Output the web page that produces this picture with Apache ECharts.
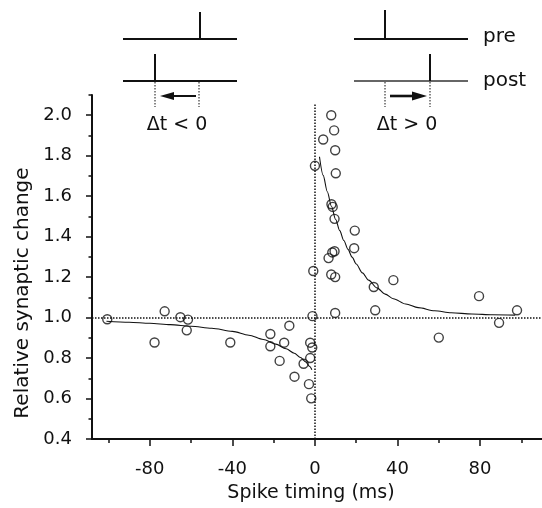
<!DOCTYPE html>
<html>
<head>
<meta charset="utf-8">
<script src="https://cdn.jsdelivr.net/npm/echarts@6/dist/echarts.min.js"></script>
<style>
  html, body { margin: 0; padding: 0; background: #fff; }
  #chart { width: 542px; height: 508px; }
</style>
</head>
<body>
<div id="chart"></div>
<script>
// Spike-timing-dependent plasticity: each circle is one recorded pair
const spikeTiming = [
  -100.6, -72.8, -65.2, -61.5, -62.1, -77.7, -41.0, -21.6, -21.6, -14.9,
  -12.4, -17.1, -5.5, -9.9, -2.3, -1.3, -2.3, -2.9, -1.8, -1.2,
  0.0, -0.8, 7.9, 9.3, 4.0, 9.8, 10.1, 8.0, 8.6, 9.5,
  19.3, 19.0, 9.5, 8.4, 6.6, 7.9, 9.8, 28.5, 38.0, 79.5,
  29.2, 9.8, 97.9, 89.2, 60.0
];
const synapticChange = [
  0.992, 1.031, 1.002, 0.990, 0.937, 0.877, 0.877, 0.919, 0.858, 0.876,
  0.960, 0.786, 0.772, 0.708, 0.876, 0.852, 0.800, 0.671, 0.601, 1.007,
  1.750, 1.230, 2.000, 1.925, 1.880, 1.827, 1.713, 1.560, 1.547, 1.488,
  1.430, 1.343, 1.328, 1.322, 1.294, 1.213, 1.200, 1.151, 1.185, 1.106,
  1.036, 1.023, 1.036, 0.974, 0.901
];

// Exponential fits for potentiation (dt > 0) and depression (dt < 0)
const ltpFitTiming = [2.2, 4, 6, 8, 10, 12, 14, 16, 18, 20, 23, 26, 30, 34, 38, 44, 50, 58, 66, 76, 86, 97];
const ltpFitChange = [1.795, 1.703, 1.622, 1.550, 1.486, 1.430, 1.381, 1.337, 1.299, 1.265, 1.221,
                      1.185, 1.147, 1.116, 1.093, 1.067, 1.049, 1.034, 1.024, 1.018, 1.014, 1.012];
const ltdFitTiming = [-101, -90, -80, -70, -60, -50, -40, -32, -25, -19, -14, -10, -7, -4.5, -2.5, -1.5];
const ltdFitChange = [0.982, 0.977, 0.972, 0.965, 0.957, 0.947, 0.932, 0.913, 0.892, 0.869,
                      0.846, 0.824, 0.803, 0.781, 0.758, 0.742];

// Axis ticks
const xMajorTicks = [-80, -40, 0, 40, 80];
const xMinorTicks = [-100, -60, -20, 20, 60, 100];
const yMajorTicks = [0.4, 0.6, 0.8, 1.0, 1.2, 1.4, 1.6, 1.8, 2.0];
const yMinorTicks = [0.5, 0.7, 0.9, 1.1, 1.3, 1.5, 1.7, 1.9, 2.1];

const X_MIN = -108, X_MAX = 110, Y_MIN = 0.4, Y_MAX = 2.1;
const FONT = 'DejaVu Sans';
const INK = '#111';

const zip = (xs, ys) => xs.map((x, i) => [x, ys[i]]);

const chart = echarts.init(document.getElementById('chart'), null, { renderer: 'canvas' });

const dotted = { color: INK, width: 1.5, type: [1.5, 1.5] };

chart.setOption({
  animation: false,
  backgroundColor: '#fff',
  grid: { left: 92, right: 0, top: 95, bottom: 62, containLabel: false },
  xAxis: [
    {
      type: 'value', min: X_MIN, max: X_MAX, position: 'bottom',
      name: 'Spike timing (ms)', nameLocation: 'middle', nameGap: 45,
      nameTextStyle: { fontFamily: FONT, fontSize: 19, color: INK, padding: [0, 12, 0, 0] },
      axisLine: { show: true, onZero: false, lineStyle: { color: INK, width: 2 } },
      axisTick: { show: true, customValues: xMajorTicks, inside: false, length: 7, lineStyle: { color: INK, width: 1.5 } },
      axisLabel: { customValues: xMajorTicks, margin: 21, fontFamily: FONT, fontSize: 18, color: INK },
      splitLine: { show: false }
    },
    {
      type: 'value', min: X_MIN, max: X_MAX, position: 'bottom', offset: 0,
      axisLine: { show: false },
      axisTick: { show: true, customValues: xMinorTicks, inside: false, length: 4, lineStyle: { color: INK, width: 1.5 } },
      axisLabel: { show: false },
      splitLine: { show: false }
    }
  ],
  yAxis: [
    {
      type: 'value', min: Y_MIN, max: Y_MAX, position: 'left',
      name: 'Relative synaptic change', nameLocation: 'middle', nameGap: 59, nameRotate: 90,
      nameTextStyle: { fontFamily: FONT, fontSize: 20, color: INK, padding: [0, 52, 0, 0] },
      axisLine: { show: true, onZero: false, lineStyle: { color: INK, width: 2 } },
      axisTick: { show: true, customValues: yMajorTicks, inside: false, length: 6, lineStyle: { color: INK, width: 1.5 } },
      axisLabel: { customValues: yMajorTicks, margin: 20, fontFamily: FONT, fontSize: 18, color: INK,
                   formatter: v => v.toFixed(1) },
      splitLine: { show: false }
    },
    {
      type: 'value', min: Y_MIN, max: Y_MAX, position: 'left', offset: 0,
      axisLine: { show: false, onZero: false },
      axisTick: { show: true, customValues: yMinorTicks, inside: false, length: 3.5, lineStyle: { color: INK, width: 1.5 } },
      axisLabel: { show: false },
      splitLine: { show: false }
    }
  ],
  series: [
    {
      name: 'pairs', type: 'scatter', xAxisIndex: 0, yAxisIndex: 0,
      data: zip(spikeTiming, synapticChange),
      symbol: 'circle', symbolSize: 9,
      itemStyle: { color: 'rgba(255,255,255,0)', borderColor: INK, borderWidth: 1.4 },
      z: 5,
      markLine: {
        silent: true, symbol: 'none', label: { show: false },
        lineStyle: dotted,
        data: [
          [{ coord: [X_MIN, 1.0] }, { coord: [X_MAX, 1.0] }],
          [{ coord: [0, Y_MIN] }, { coord: [0, 2.06] }]
        ]
      }
    },
    {
      name: 'LTP fit', type: 'line', xAxisIndex: 0, yAxisIndex: 0,
      data: zip(ltpFitTiming, ltpFitChange),
      showSymbol: false, smooth: 0.3, smoothMonotone: 'x',
      lineStyle: { color: INK, width: 1.1 }, z: 4
    },
    {
      name: 'LTD fit', type: 'line', xAxisIndex: 0, yAxisIndex: 0,
      data: zip(ltdFitTiming, ltdFitChange),
      showSymbol: false, smooth: 0.3, smoothMonotone: 'x',
      lineStyle: { color: INK, width: 1.1 }, z: 4
    }
  ],
  // Pre/post spike-order schematics above the plot
  graphic: [
    // dt < 0 : post fires before pre
    { type: 'line', shape: { x1: 123, y1: 39, x2: 237, y2: 39 }, style: { stroke: INK, lineWidth: 2 } },
    { type: 'line', shape: { x1: 200, y1: 12, x2: 200, y2: 39 }, style: { stroke: INK, lineWidth: 2 } },
    { type: 'line', shape: { x1: 123, y1: 81, x2: 237, y2: 81 }, style: { stroke: INK, lineWidth: 2 } },
    { type: 'line', shape: { x1: 155, y1: 54, x2: 155, y2: 81 }, style: { stroke: INK, lineWidth: 2 } },
    { type: 'line', shape: { x1: 155, y1: 82, x2: 155, y2: 107 }, style: { stroke: INK, lineWidth: 1, lineDash: [1.5, 1.5] } },
    { type: 'line', shape: { x1: 199, y1: 82, x2: 199, y2: 107 }, style: { stroke: INK, lineWidth: 1, lineDash: [1.5, 1.5] } },
    { type: 'line', shape: { x1: 170, y1: 96, x2: 196, y2: 96 }, style: { stroke: INK, lineWidth: 2 } },
    { type: 'polygon', shape: { points: [[160, 96], [174, 92], [174, 100]] }, style: { fill: INK } },
    { type: 'text', style: { text: 'Δt < 0', x: 177, y: 125, textAlign: 'center', textVerticalAlign: 'middle',
      font: '19px "DejaVu Sans"', fill: INK } },

    // dt > 0 : pre fires before post
    { type: 'line', shape: { x1: 354, y1: 39, x2: 468, y2: 39 }, style: { stroke: INK, lineWidth: 2 } },
    { type: 'line', shape: { x1: 385, y1: 10, x2: 385, y2: 39 }, style: { stroke: INK, lineWidth: 2 } },
    { type: 'line', shape: { x1: 354, y1: 81, x2: 468, y2: 81 }, style: { stroke: '#333', lineWidth: 1.5 } },
    { type: 'line', shape: { x1: 430, y1: 54, x2: 430, y2: 81 }, style: { stroke: INK, lineWidth: 2 } },
    { type: 'line', shape: { x1: 385, y1: 82, x2: 385, y2: 107 }, style: { stroke: INK, lineWidth: 1, lineDash: [1.5, 1.5] } },
    { type: 'line', shape: { x1: 430, y1: 82, x2: 430, y2: 107 }, style: { stroke: INK, lineWidth: 1, lineDash: [1.5, 1.5] } },
    { type: 'line', shape: { x1: 390, y1: 96, x2: 414, y2: 96 }, style: { stroke: INK, lineWidth: 2.6 } },
    { type: 'polygon', shape: { points: [[427, 96], [412, 91.5], [412, 100.5]] }, style: { fill: INK } },
    { type: 'text', style: { text: 'Δt > 0', x: 407, y: 125, textAlign: 'center', textVerticalAlign: 'middle',
      font: '19px "DejaVu Sans"', fill: INK } },

    { type: 'text', style: { text: 'pre', x: 483, y: 37, textAlign: 'left', textVerticalAlign: 'middle',
      font: '20px "DejaVu Sans"', fill: INK } },
    { type: 'text', style: { text: 'post', x: 483, y: 81, textAlign: 'left', textVerticalAlign: 'middle',
      font: '20px "DejaVu Sans"', fill: INK } }
  ]
});
</script>
</body>
</html>
